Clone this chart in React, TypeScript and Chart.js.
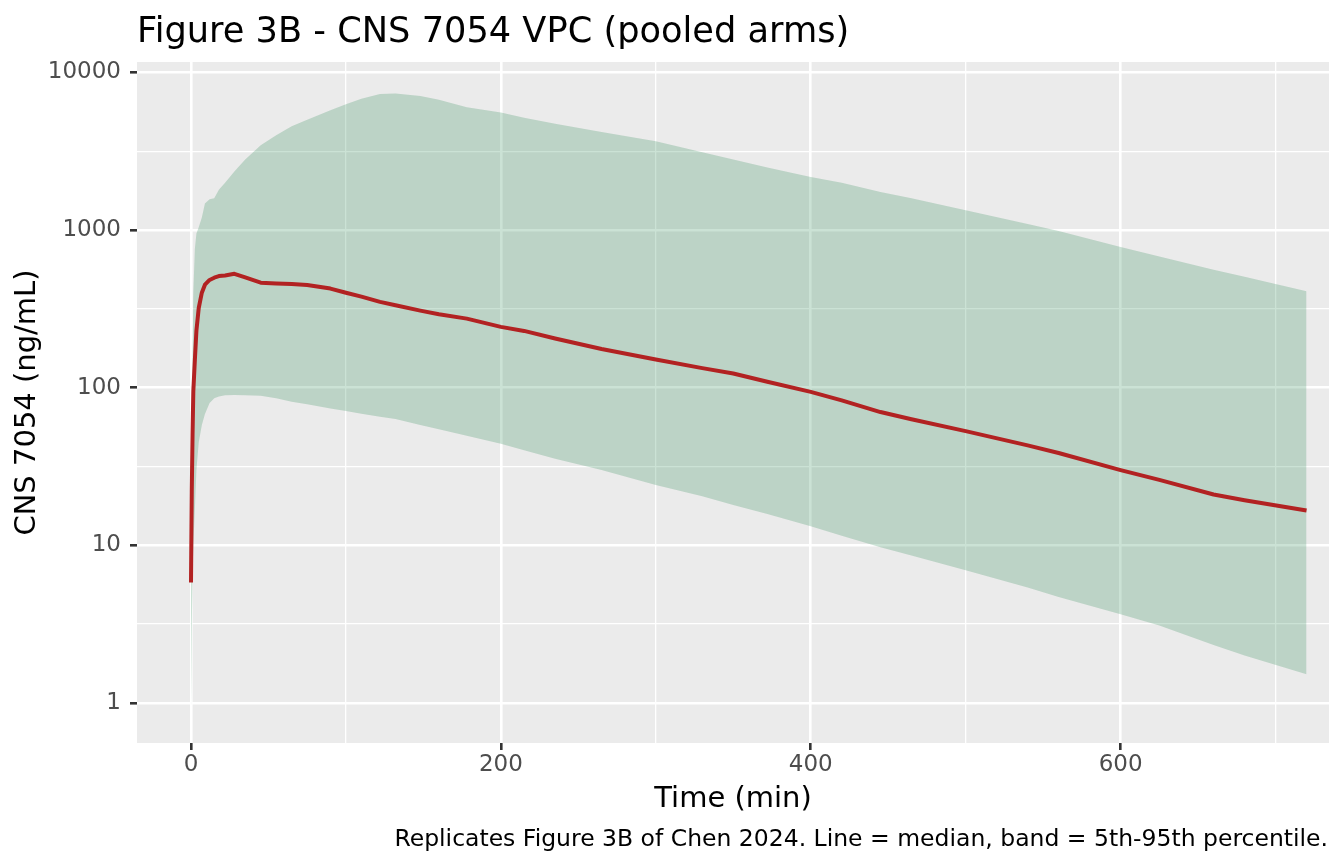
import React, { useEffect, useRef } from "react";
import Chart from "chart.js/auto";

// VPC summary: time (min) and concentration (ng/mL)
const timeMin = [
  0, 0.5, 1, 1.5, 2.5, 3.5, 5, 7, 9, 12, 15, 18, 22, 28, 35, 45, 55, 65, 75, 90,
  100, 110, 122, 132, 148, 160, 178, 200, 215, 235, 265, 300, 330, 350, 372, 400,
  420, 445, 465, 500, 540, 560, 600, 625, 660, 680, 720,
];
const medianConc = [
  5.8, 22, 50, 95, 150, 230, 320, 400, 450, 482, 498, 510, 515, 527, 500, 463, 458,
  455, 448, 425, 400, 378, 350, 333, 308, 292, 274, 243, 229, 205, 176, 151, 133,
  123, 109, 94, 83, 70, 63, 53, 43, 38.5, 30, 26, 21, 19.3, 16.6,
];
const p95Conc = [
  8, 60, 150, 400, 760, 950, 1040, 1200, 1475, 1565, 1590, 1800, 1990, 2350, 2800,
  3450, 3990, 4550, 5000, 5750, 6270, 6800, 7280, 7350, 7080, 6700, 6000, 5570,
  5150, 4720, 4190, 3660, 3110, 2800, 2490, 2170, 1990, 1740, 1590, 1336, 1090, 985,
  780, 678, 560, 505, 408,
];
const p05Conc = [
  0.9, 3, 6.5, 10, 17, 30, 45, 58, 68, 80, 85.5, 88, 89.5, 89.8, 89.5, 88.8, 85.5,
  81.5, 78.5, 73.8, 71, 68.3, 65.3, 63.2, 58, 54.5, 49.6, 44, 40, 35.4, 30, 24.1,
  20.5, 18, 15.8, 13.2, 11.5, 9.7, 8.6, 6.95, 5.4, 4.7, 3.65, 3.1, 2.33, 2.0, 1.52,
];

const xTicks = [0, 200, 400, 600];
const yTicks = [1, 10, 100, 1000, 10000];

const TITLE = "Figure 3B - CNS 7054 VPC (pooled arms)";
const CAPTION =
  "Replicates Figure 3B of Chen 2024. Line = median, band = 5th-95th percentile.";
const X_TITLE = "Time (min)";
const Y_TITLE = "CNS 7054 (ng/mL)";

const FONT = '"DejaVu Sans", sans-serif';
const PANEL = "#EBEBEB";

const X_MIN = -34.85;
const X_MAX = 734.5;
const Y_MIN = 0.557;
const Y_MAX = 11630;

// minor breaks halfway between majors (linear for x, log for y)
const xStep = xTicks[1] - xTicks[0];
const xAll = [...xTicks, ...xTicks.map((v) => v + xStep / 2), xTicks[0] - xStep / 2]
  .filter((v) => v >= X_MIN && v <= X_MAX)
  .sort((a, b) => a - b);
const yAll = [...yTicks, ...yTicks.map((v) => v * Math.sqrt(10)), yTicks[0] / Math.sqrt(10)]
  .filter((v) => v >= Y_MIN && v <= Y_MAX)
  .sort((a, b) => a - b);

const ggPanel = {
  id: "ggPanel",
  beforeDraw(chart: any) {
    const { ctx, chartArea: a } = chart;
    ctx.save();
    ctx.fillStyle = PANEL;
    ctx.fillRect(a.left, a.top, a.right - a.left, a.bottom - a.top);
    ctx.restore();
  },
  afterDraw(chart: any) {
    const { ctx, chartArea: a } = chart;
    ctx.save();
    ctx.fillStyle = "#000000";
    ctx.textBaseline = "alphabetic";

    ctx.font = `35.2px ${FONT}`;
    ctx.textAlign = "left";
    ctx.fillText(TITLE, a.left, 42);

    ctx.font = `29px ${FONT}`;
    ctx.textAlign = "center";
    ctx.fillText(X_TITLE, (a.left + a.right) / 2, 806.5);

    ctx.font = `23.5px ${FONT}`;
    ctx.textAlign = "right";
    ctx.fillText(CAPTION, a.right - 1, 846);

    ctx.translate(35, (a.top + a.bottom) / 2);
    ctx.rotate(-Math.PI / 2);
    ctx.font = `29px ${FONT}`;
    ctx.textAlign = "center";
    ctx.fillText(Y_TITLE, 0, 0);
    ctx.restore();
  },
};

const App: React.FC = () => {
  const canvasRef = useRef<HTMLCanvasElement | null>(null);
  const chartRef = useRef<Chart | null>(null);

  useEffect(() => {
    if (!canvasRef.current) return;
    if (chartRef.current) chartRef.current.destroy();
    const ctx = canvasRef.current.getContext("2d");
    if (!ctx) return;

    const pts = (vals: number[]) => timeMin.map((t, i) => ({ x: t, y: vals[i] }));

    chartRef.current = new Chart(ctx, {
      type: "line",
      data: {
        datasets: [
          {
            label: "p05",
            data: pts(p05Conc),
            borderColor: "rgba(0,0,0,0)",
            borderWidth: 1,
            pointRadius: 0,
            fill: false,
            tension: 0,
            order: 2,
          },
          {
            label: "p95",
            data: pts(p95Conc),
            borderColor: "rgba(0,0,0,0)",
            borderWidth: 1,
            backgroundColor: "rgba(46, 139, 87, 0.25)",
            pointRadius: 0,
            fill: "-1",
            tension: 0,
            order: 1,
          },
          {
            // drawn last, on top of the band
            label: "median",
            data: pts(medianConc),
            borderColor: "#B22222",
            borderWidth: 4,
            borderJoinStyle: "round",
            pointRadius: 0,
            fill: false,
            tension: 0,
            order: 0,
          },
        ],
      },
      options: {
        responsive: true,
        maintainAspectRatio: false,
        animation: false,
        events: [],
        layout: { padding: { left: 0, top: 62, right: 15, bottom: 0 } },
        plugins: {
          legend: { display: false },
          tooltip: { enabled: false },
          title: { display: false },
        },
        scales: {
          x: {
            type: "linear",
            min: X_MIN,
            max: X_MAX,
            afterBuildTicks: (s: any) => {
              s.ticks = xAll.map((v) => ({ value: v }));
            },
            afterFit: (s: any) => {
              s.height = 121;
            },
            ticks: {
              autoSkip: false,
              maxRotation: 0,
              padding: 1,
              color: "#4D4D4D",
              font: { family: FONT, size: 23 },
              callback: (v: any) => (xTicks.includes(Number(v)) ? String(v) : ""),
            },
            grid: {
              color: "#FFFFFF",
              lineWidth: (c: any) => (xTicks.includes(c.tick?.value) ? 2.6 : 1.3),
              tickColor: (c: any) =>
                xTicks.includes(c.tick?.value) ? "#333333" : "rgba(0,0,0,0)",
              tickWidth: 2.6,
              tickLength: 7,
              drawTicks: true,
            },
            border: { display: false },
          },
          y: {
            type: "logarithmic",
            min: Y_MIN,
            max: Y_MAX,
            afterBuildTicks: (s: any) => {
              s.ticks = yAll.map((v) => ({ value: v }));
            },
            afterFit: (s: any) => {
              s.width = 137;
            },
            ticks: {
              autoSkip: false,
              padding: 9,
              color: "#4D4D4D",
              font: { family: FONT, size: 23 },
              callback: (v: any) => (yTicks.includes(Number(v)) ? String(v) : ""),
            },
            grid: {
              color: "#FFFFFF",
              lineWidth: (c: any) => (yTicks.includes(c.tick?.value) ? 2.6 : 1.3),
              tickColor: (c: any) =>
                yTicks.includes(c.tick?.value) ? "#333333" : "rgba(0,0,0,0)",
              tickWidth: 2.6,
              tickLength: 7,
              drawTicks: true,
            },
            border: { display: false },
          },
        },
      },
      plugins: [ggPanel],
    });

    return () => {
      if (chartRef.current) {
        chartRef.current.destroy();
        chartRef.current = null;
      }
    };
  }, []);

  return (
    <div
      style={{
        position: "fixed",
        left: 0,
        top: 0,
        width: "1344px",
        height: "864px",
        background: "#FFFFFF",
      }}
    >
      <canvas ref={canvasRef} />
    </div>
  );
};

export default App;
